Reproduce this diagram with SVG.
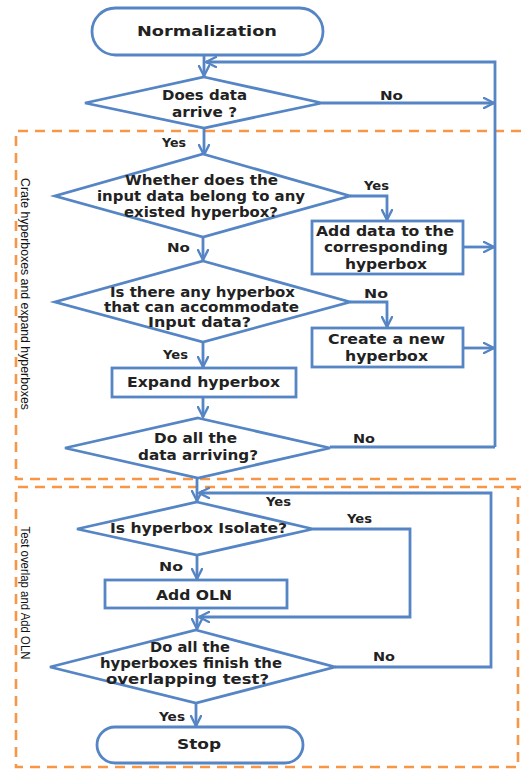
<svg xmlns="http://www.w3.org/2000/svg" width="521" height="772" viewBox="0 0 521 772">
<defs>
<marker id="arr" viewBox="0 0 12 12" refX="11" refY="6" markerWidth="12" markerHeight="12" markerUnits="userSpaceOnUse" orient="auto">
<path d="M1,1 L11,6 L1,11" fill="none" stroke="#5585C4" stroke-width="2.4" stroke-linecap="round" stroke-linejoin="round"/>
</marker>
<style>
.sh{fill:#fff;stroke:#5585C4;stroke-width:2.8}
.ln{fill:none;stroke:#5585C4;stroke-width:2.8;stroke-linejoin:round}
.ar{fill:none;stroke:#5585C4;stroke-width:2.8;marker-end:url(#arr)}
.t{font-family:"DejaVu Sans","Open Sans",sans-serif;font-weight:bold;font-size:13.5px;fill:#222;text-anchor:middle}
.big{font-size:14.5px}
.lb{font-family:"DejaVu Sans","Open Sans",sans-serif;font-weight:bold;font-size:12.5px;fill:#222;text-anchor:middle}
.grp{fill:none;stroke:#F79646;stroke-width:2.6;stroke-dasharray:10,7}
.gt{font-family:"Liberation Sans","Open Sans",sans-serif;font-size:13px;fill:#111;text-anchor:middle}
</style>
</defs>
<g id="groups">
<path class="grp" d="M521,131 H16 V479 H521"/>
<path class="grp" d="M521,487 H16 V767 H518 V487"/>
<text class="gt" transform="translate(21,294) rotate(90)" textLength="232" lengthAdjust="spacingAndGlyphs">Crate hyperboxes and expand hyperboxes</text>
<text class="gt" transform="translate(21,593) rotate(90)" textLength="133" lengthAdjust="spacingAndGlyphs">Test overlap and Add OLN</text>
</g>
<g id="connectors">
<line class="ar" x1="204" y1="55" x2="204" y2="76"/>
<path class="ar" d="M495,447 V62 H206"/>
<line class="ar" x1="322" y1="103" x2="494" y2="103"/>
<line class="ar" x1="204" y1="128" x2="204" y2="155"/>
<path class="ar" d="M350,196 H387 V220"/>
<line class="ar" x1="463" y1="247" x2="494" y2="247"/>
<line class="ar" x1="203" y1="237" x2="203" y2="260"/>
<path class="ar" d="M350,302 H387 V327"/>
<line class="ar" x1="463" y1="348" x2="494" y2="348"/>
<line class="ar" x1="203" y1="342" x2="203" y2="367"/>
<line class="ar" x1="203" y1="397" x2="203" y2="417"/>
<line class="ln" x1="330" y1="447" x2="495" y2="447"/>
<line class="ar" x1="197" y1="479" x2="197" y2="501"/>
<path class="ar" d="M335,667 H491 V493 H199"/>
<path class="ar" d="M313,529 H410 V617 H199"/>
<line class="ar" x1="197" y1="555" x2="197" y2="579"/>
<line class="ar" x1="197" y1="608" x2="197" y2="629"/>
<line class="ar" x1="196" y1="703" x2="196" y2="726"/>
<text class="lb" x="391.5" y="100" textLength="23" lengthAdjust="spacingAndGlyphs">No</text>
<text class="lb" x="174" y="147" textLength="24" lengthAdjust="spacingAndGlyphs">Yes</text>
<text class="lb" x="376.5" y="190" textLength="25" lengthAdjust="spacingAndGlyphs">Yes</text>
<text class="lb" x="178.5" y="252" textLength="23" lengthAdjust="spacingAndGlyphs">No</text>
<text class="lb" x="376" y="298" textLength="24" lengthAdjust="spacingAndGlyphs">No</text>
<text class="lb" x="175.5" y="359" textLength="25" lengthAdjust="spacingAndGlyphs">Yes</text>
<text class="lb" x="364" y="443" textLength="22" lengthAdjust="spacingAndGlyphs">No</text>
<text class="lb" x="278.5" y="506" textLength="25" lengthAdjust="spacingAndGlyphs">Yes</text>
<text class="lb" x="359.5" y="523" textLength="25" lengthAdjust="spacingAndGlyphs">Yes</text>
<text class="lb" x="171" y="571" textLength="24" lengthAdjust="spacingAndGlyphs">No</text>
<text class="lb" x="384" y="661" textLength="22" lengthAdjust="spacingAndGlyphs">No</text>
<text class="lb" x="172" y="721" textLength="26" lengthAdjust="spacingAndGlyphs">Yes</text>
</g>
<g id="n-normalization">
<rect class="sh" x="92" y="8" width="231" height="47" rx="23.5"/>
<text class="t big" x="207" y="36" textLength="140" lengthAdjust="spacingAndGlyphs">Normalization</text>
</g>
<g id="n-arrive">
<polygon class="sh" points="204,77 322,103 204,128 85,103"/>
<text class="t" x="204.5" y="100" textLength="85" lengthAdjust="spacingAndGlyphs">Does data</text>
<text class="t" x="204.5" y="117" textLength="65" lengthAdjust="spacingAndGlyphs">arrive ?</text>
</g>
<g id="n-belong">
<polygon class="sh" points="203,154 350,196 203,237 55,196"/>
<text class="t" x="201.5" y="185" textLength="153" lengthAdjust="spacingAndGlyphs">Whether does the</text>
<text class="t" x="201" y="201" textLength="208" lengthAdjust="spacingAndGlyphs">input data belong to any</text>
<text class="t" x="201" y="217" textLength="154" lengthAdjust="spacingAndGlyphs">existed hyperbox?</text>
</g>
<g id="n-adddata">
<rect class="sh" x="312" y="221" width="151" height="53"/>
<text class="t" x="385" y="236" textLength="138" lengthAdjust="spacingAndGlyphs">Add data to the</text>
<text class="t" x="386" y="252" textLength="124" lengthAdjust="spacingAndGlyphs">corresponding</text>
<text class="t" x="386" y="269" textLength="82" lengthAdjust="spacingAndGlyphs">hyperbox</text>
</g>
<g id="n-accommodate">
<polygon class="sh" points="203,261 350,302 203,342 55,302"/>
<text class="t" x="202.5" y="297" textLength="185" lengthAdjust="spacingAndGlyphs">Is there any hyperbox</text>
<text class="t" x="201.5" y="312" textLength="195" lengthAdjust="spacingAndGlyphs">that can accommodate</text>
<text class="t" x="199.5" y="327" textLength="103" lengthAdjust="spacingAndGlyphs">Input data?</text>
</g>
<g id="n-create">
<rect class="sh" x="312" y="328" width="151" height="39"/>
<text class="t" x="386.5" y="344" textLength="117" lengthAdjust="spacingAndGlyphs">Create a new</text>
<text class="t" x="386.5" y="361" textLength="83" lengthAdjust="spacingAndGlyphs">hyperbox</text>
</g>
<g id="n-expand">
<rect class="sh" x="112" y="368" width="184" height="29"/>
<text class="t" x="203.5" y="387" textLength="153" lengthAdjust="spacingAndGlyphs">Expand  hyperbox</text>
</g>
<g id="n-alldata">
<polygon class="sh" points="198,418 330,448 198,478 65,448"/>
<text class="t" x="195.5" y="443" textLength="83" lengthAdjust="spacingAndGlyphs">Do all the</text>
<text class="t" x="198" y="460" textLength="120" lengthAdjust="spacingAndGlyphs">data arriving?</text>
</g>
<g id="n-isolate">
<polygon class="sh" points="197,502 313,529 197,555 77,529"/>
<text class="t" x="198.5" y="533" textLength="177" lengthAdjust="spacingAndGlyphs">Is hyperbox Isolate?</text>
</g>
<g id="n-addoln">
<rect class="sh" x="105" y="580" width="182" height="28"/>
<text class="t" x="194" y="600" textLength="76" lengthAdjust="spacingAndGlyphs">Add OLN</text>
</g>
<g id="n-overlap">
<polygon class="sh" points="196,630 335,667 196,703 50,667"/>
<text class="t" x="190" y="652" textLength="80" lengthAdjust="spacingAndGlyphs">Do all the</text>
<text class="t" x="191" y="668" textLength="182" lengthAdjust="spacingAndGlyphs">hyperboxes finish the</text>
<text class="t" x="187.5" y="684" textLength="163" lengthAdjust="spacingAndGlyphs">overlapping test?</text>
</g>
<g id="n-stop">
<rect class="sh" x="97" y="727" width="206" height="36" rx="18"/>
<text class="t big" x="199" y="749" textLength="44" lengthAdjust="spacingAndGlyphs">Stop</text>
</g>
</svg>
